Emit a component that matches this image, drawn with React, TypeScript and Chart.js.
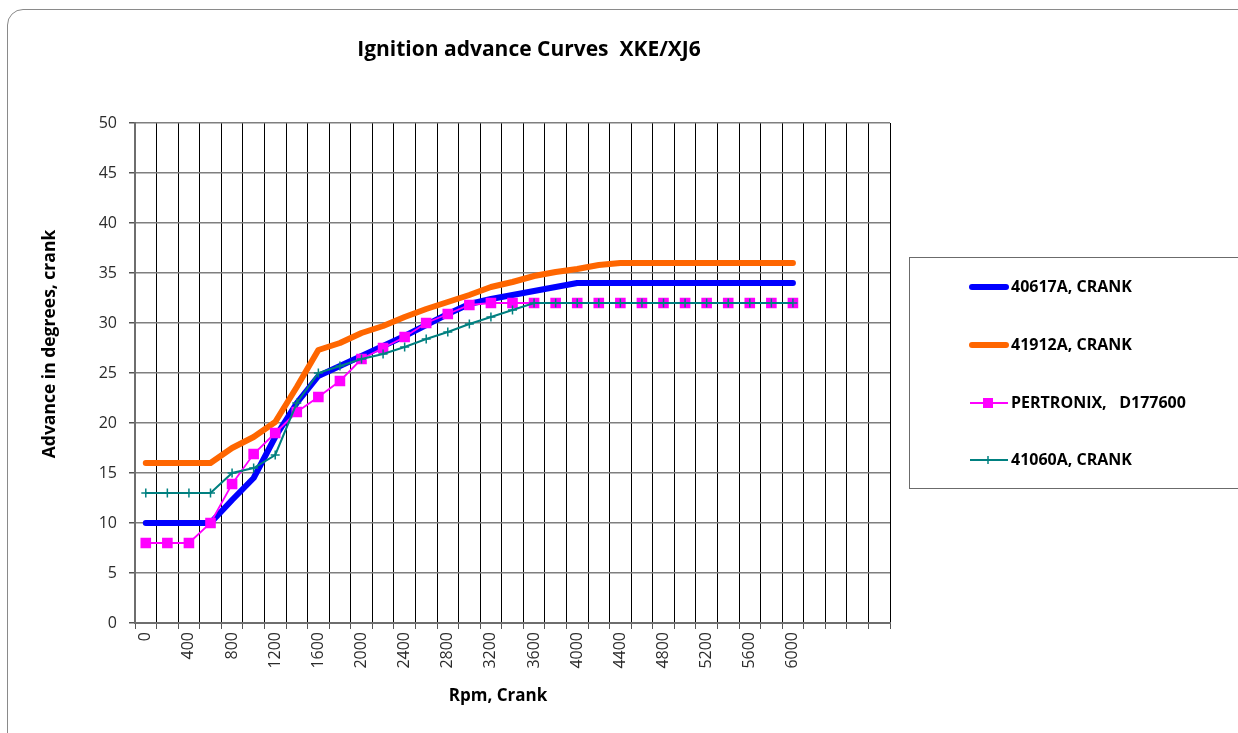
import React, { useEffect, useRef } from 'react';
import { Chart, registerables } from 'chart.js';

Chart.register(...registerables);

const chartTitle = 'Ignition advance Curves  XKE/XJ6';
const xAxisTitle = 'Rpm, Crank';
const yAxisTitle = 'Advance in degrees, crank';

// rpm categories (every 200), plus 4 empty trailing categories shown in the grid
const rpmLabels = [
  '0', '200', '400', '600', '800', '1000', '1200', '1400', '1600', '1800',
  '2000', '2200', '2400', '2600', '2800', '3000', '3200', '3400', '3600', '3800',
  '4000', '4200', '4400', '4600', '4800', '5000', '5200', '5400', '5600', '5800',
  '6000', '', '', '', '',
];

const s40617A = [
  10, 10, 10, 10, 12.3, 14.5, 18.6, 22, 24.7, 25.7,
  26.7, 27.7, 28.7, 29.8, 30.9, 31.9, 32.4, 32.8, 33.2, 33.6,
  34, 34, 34, 34, 34, 34, 34, 34, 34, 34, 34,
];
const s41912A = [
  16, 16, 16, 16, 17.5, 18.6, 20.1, 23.6, 27.3, 28,
  29, 29.7, 30.6, 31.4, 32.1, 32.8, 33.6, 34.1, 34.7, 35.1,
  35.4, 35.8, 36, 36, 36, 36, 36, 36, 36, 36, 36,
];
const sPertronix = [
  8, 8, 8, 10, 13.9, 16.9, 19, 21.1, 22.6, 24.2,
  26.4, 27.5, 28.6, 30, 30.9, 31.8, 32, 32, 32, 32,
  32, 32, 32, 32, 32, 32, 32, 32, 32, 32, 32,
];
const s41060A = [
  13, 13, 13, 13, 15, 15.5, 16.8, 22, 25, 25.7,
  26.4, 26.9, 27.6, 28.4, 29.1, 29.9, 30.6, 31.3, 32, 32,
  32, 32, 32, 32, 32, 32, 32, 32, 32, 32, 32,
];

const seriesNames = ['40617A, CRANK', '41912A, CRANK', 'PERTRONIX,   D177600', '41060A, CRANK'];

const FONT = '"Open Sans", "Noto Sans", sans-serif';

const overlayPlugin = {
  id: 'overlay',
  afterDraw(chart: any) {
    const ctx = chart.ctx as CanvasRenderingContext2D;
    ctx.save();
    ctx.fillStyle = '#000';
    // chart title
    ctx.font = `bold 21px ${FONT}`;
    ctx.textAlign = 'center';
    ctx.textBaseline = 'middle';
    ctx.fillText(chartTitle, 529, 50);
    // x axis title
    ctx.font = `bold 17px ${FONT}`;
    ctx.fillText(xAxisTitle, 498, 696);
    // y axis title
    ctx.save();
    ctx.translate(50, 344);
    ctx.rotate(-Math.PI / 2);
    ctx.font = `bold 17.5px ${FONT}`;
    ctx.fillText(yAxisTitle, 0, 0);
    ctx.restore();

    // legend box
    ctx.strokeStyle = '#6b6b6b';
    ctx.lineWidth = 1;
    ctx.strokeRect(909.5, 257.5, 400, 231);
    const ys = [287, 345, 403, 460];
    chart.data.datasets.forEach((ds: any, i: number) => {
      const y = ys[i];
      ctx.beginPath();
      ctx.strokeStyle = ds.borderColor;
      ctx.lineWidth = ds.borderWidth;
      ctx.lineCap = ds.borderCapStyle || 'butt';
      const x0 = ds.borderCapStyle === 'round' ? 972 : 970;
      const x1 = ds.borderCapStyle === 'round' ? 1006 : 1008;
      ctx.moveTo(x0, y);
      ctx.lineTo(x1, y);
      ctx.stroke();
      if (ds.pointStyle === 'rect') {
        ctx.fillStyle = ds.pointBackgroundColor;
        ctx.fillRect(988 - 5, y - 5, 10, 10);
      } else if (ds.pointStyle === 'cross') {
        ctx.beginPath();
        ctx.lineWidth = 1.5;
        ctx.lineCap = 'butt';
        ctx.moveTo(988, y - 4);
        ctx.lineTo(988, y + 4);
        ctx.stroke();
      }
      ctx.fillStyle = '#000';
      ctx.font = `bold 16px ${FONT}`;
      ctx.textAlign = 'left';
      ctx.textBaseline = 'middle';
      ctx.fillText(ds.label, 1011, y);
    });
    ctx.restore();
  },
};

export default function App() {
  const canvasRef = useRef<HTMLCanvasElement | null>(null);

  useEffect(() => {
    if (!canvasRef.current) return;
    const chart = new Chart(canvasRef.current, {
      type: 'line',
      data: {
        labels: rpmLabels,
        datasets: [
          {
            label: seriesNames[0],
            data: s40617A,
            order: 4,
            borderColor: '#0000FF',
            backgroundColor: '#0000FF',
            borderWidth: 6,
            borderCapStyle: 'round',
            borderJoinStyle: 'round',
            pointRadius: 0,
            tension: 0,
          },
          {
            label: seriesNames[1],
            data: s41912A,
            order: 3,
            borderColor: '#FF6600',
            backgroundColor: '#FF6600',
            borderWidth: 6,
            borderCapStyle: 'round',
            borderJoinStyle: 'round',
            pointRadius: 0,
            tension: 0,
          },
          {
            label: seriesNames[2],
            data: sPertronix,
            order: 2,
            borderColor: '#FF00FF',
            backgroundColor: '#FF00FF',
            pointBackgroundColor: '#FF00FF',
            pointBorderColor: '#FF00FF',
            borderWidth: 1.8,
            pointStyle: 'rect',
            pointRadius: 7.5,
            pointBorderWidth: 0,
            tension: 0,
          },
          {
            label: seriesNames[3],
            data: s41060A,
            order: 1,
            borderColor: '#008080',
            backgroundColor: '#008080',
            pointBorderColor: '#008080',
            borderWidth: 2,
            pointStyle: 'cross',
            pointRadius: 4.5,
            pointBorderWidth: 1.5,
            tension: 0,
          },
        ],
      },
      options: {
        responsive: false,
        animation: false,
        layout: { padding: { left: 0, top: 123, right: 348, bottom: 0 } },
        plugins: {
          legend: { display: false },
          title: { display: false },
          tooltip: { enabled: false },
        },
        scales: {
          x: {
            type: 'category',
            offset: true,
            grid: {
              offset: true,
              color: '#000000',
              lineWidth: 1,
              drawTicks: true,
              tickLength: 6,
              tickColor: '#555555',
            },
            border: { color: '#6e6e6e', width: 2 },
            ticks: {
              autoSkip: false,
              maxRotation: 90,
              minRotation: 90,
              padding: 3,
              color: '#2b2b2b',
              font: { family: FONT, size: 16 },
              callback: (_v: any, i: number) => (i % 2 === 0 ? rpmLabels[i] : ''),
            },
            afterFit: (scale: any) => {
              scale.height = 110;
            },
          },
          y: {
            min: 0,
            max: 50,
            ticks: {
              stepSize: 5,
              padding: 12,
              color: '#2b2b2b',
              font: { family: FONT, size: 16 },
            },
            grid: {
              color: '#7f7f7f',
              lineWidth: 1.5,
              drawTicks: true,
              tickLength: 6,
              tickColor: '#555555',
            },
            border: { color: '#6e6e6e', width: 2 },
            afterFit: (scale: any) => {
              scale.width = 135;
            },
          },
        },
      },
      plugins: [overlayPlugin],
    } as any);
    return () => chart.destroy();
  }, []);

  return (
    <div style={{ position: 'fixed', left: 0, top: 0, width: 1238, height: 733, overflow: 'hidden', background: '#fff' }}>
      <div
        style={{
          position: 'absolute',
          left: 7,
          top: 9,
          width: 1400,
          height: 900,
          border: '1.5px solid #8a8a8a',
          borderRadius: 16,
          boxSizing: 'border-box',
        }}
      />
      <canvas ref={canvasRef} width={1238} height={733} style={{ position: 'absolute', left: 0, top: 0 }} />
    </div>
  );
}
